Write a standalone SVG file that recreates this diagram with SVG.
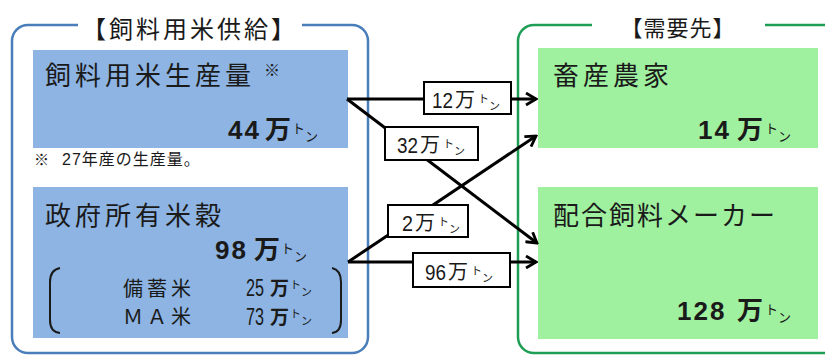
<svg xmlns="http://www.w3.org/2000/svg" width="825" height="356" viewBox="0 0 825 356">
<style>
.t{font-family:"Liberation Sans","Noto Sans CJK JP",sans-serif;fill:#1a1a1a}
.j{font-family:"Noto Sans CJK JP",sans-serif;fill:#1a1a1a}
.ttl{font-size:24px;letter-spacing:3px}
.big{font-size:26px;letter-spacing:4px}
.num{font-size:26px;font-weight:bold;letter-spacing:2px}
.man{font-size:26px;font-weight:bold}
.kb{font-size:13px}
.ks{font-size:11px}
.sub{font-size:20px;letter-spacing:4px}
.lbl{font-size:22px}
.lm{font-size:20px}
.lb{fill:#ffffff;stroke:#000;stroke-width:2}
.cn{fill:none;stroke:#000;stroke-width:3}
</style>
<defs>
<marker id="ah" viewBox="0 0 14 14" refX="12" refY="7" markerWidth="14" markerHeight="14" markerUnits="userSpaceOnUse" orient="auto">
<path d="M2,1 L12,7 L2,13" fill="none" stroke="#000" stroke-width="2.8"/>
</marker>
</defs>
<rect width="825" height="356" fill="#ffffff"/>

<g id="supply-group">
<path d="M78,25 H28 A16,16 0 0 0 12,41 V337 A16,16 0 0 0 28,353 H352 A16,16 0 0 0 368,337 V41 A16,16 0 0 0 352,25 H302" fill="none" stroke="#4a7ebb" stroke-width="2.5"/>
<text class="j ttl" x="190" y="38" text-anchor="middle">【飼料用米供給】</text>
</g>

<g id="demand-group">
<path d="M592,25 H534 A16,16 0 0 0 518,41 V337 A16,16 0 0 0 534,353 H830 M765,25 H830" fill="none" stroke="#1e9e55" stroke-width="2.5"/>
<text class="j" style="font-size:22px;letter-spacing:1px" x="678" y="36" text-anchor="middle">【需要先】</text>
</g>

<g id="production">
<rect x="33" y="50" width="315" height="98" fill="#8db4e2"/>
<text class="t big" x="45" y="85">飼料用米生産量</text>
<text class="t" style="font-size:16px" x="264" y="76">※</text>
<text class="t num" x="228" y="139">44</text>
<text class="t man" x="265" y="139">万</text>
<text class="j kb" x="292" y="133">ト<tspan dy="8">ン</tspan></text>
<text class="j" style="font-size:15px" x="34" y="165">※</text>
<text class="t" style="font-size:16px;letter-spacing:1px" x="62" y="165">27年産の生産量。</text>
</g>

<g id="government">
<rect x="33" y="187" width="315" height="151" fill="#8db4e2"/>
<text class="t big" x="45" y="225">政府所有米穀</text>
<text class="t num" x="215" y="259">98</text>
<text class="t man" x="254" y="259">万</text>
<text class="j kb" x="281" y="253">ト<tspan dy="8">ン</tspan></text>
<path d="M60,268 Q50,270 50,282 V320 Q50,332 60,333" fill="none" stroke="#1a1a1a" stroke-width="2"/>
<path d="M332,268 Q341,270 341,282 V320 Q341,332 332,333" fill="none" stroke="#1a1a1a" stroke-width="2"/>
<text class="j sub" x="123" y="296">備蓄米</text>
<text class="t" style="font-size:23px" x="246" y="296" textLength="18" lengthAdjust="spacingAndGlyphs">25</text>
<text class="j" style="font-size:19px;font-weight:bold" x="270" y="295">万</text>
<text class="j ks" x="290" y="289">ト<tspan dy="7">ン</tspan></text>
<text class="j sub" x="123" y="324">ＭＡ米</text>
<text class="t" style="font-size:23px" x="246" y="325" textLength="18" lengthAdjust="spacingAndGlyphs">73</text>
<text class="j" style="font-size:19px;font-weight:bold" x="270" y="324">万</text>
<text class="j ks" x="290" y="318">ト<tspan dy="7">ン</tspan></text>
</g>

<g id="livestock">
<rect x="538" y="48" width="280" height="100" fill="#9ff09f"/>
<text class="t big" x="553" y="85">畜産農家</text>
<text class="t num" x="698" y="139">14</text>
<text class="t man" x="737" y="139">万</text>
<text class="j kb" x="765" y="133">ト<tspan dy="8">ン</tspan></text>
</g>

<g id="feedmaker">
<rect x="538" y="187" width="280" height="152" fill="#9ff09f"/>
<text class="t" style="font-size:26px;letter-spacing:2px" x="553" y="225">配合飼料メーカー</text>
<text class="t num" x="677" y="320">128</text>
<text class="t man" x="737" y="320">万</text>
<text class="j kb" x="765" y="314">ト<tspan dy="8">ン</tspan></text>
</g>

<g id="connectors">
<path class="cn" d="M347,99 H536" marker-end="url(#ah)"/>
<path class="cn" d="M347,99 L537,243" marker-end="url(#ah)"/>
<path class="cn" d="M348,262 H536" marker-end="url(#ah)"/>
<path class="cn" d="M348,262 L536,136" marker-end="url(#ah)"/>
<g id="label-12">
<rect class="lb" x="424" y="82" width="87" height="32"/>
<text class="t lbl" x="432" y="108" textLength="21" lengthAdjust="spacingAndGlyphs">12</text>
<text class="j lm" x="455" y="107">万</text>
<text class="j ks" x="478" y="103">ト<tspan dy="7">ン</tspan></text>
</g>
<g id="label-32">
<rect class="lb" x="385" y="127" width="93" height="33"/>
<text class="t lbl" x="397" y="153" textLength="21" lengthAdjust="spacingAndGlyphs">32</text>
<text class="j lm" x="420" y="152">万</text>
<text class="j ks" x="443" y="148">ト<tspan dy="7">ン</tspan></text>
</g>
<g id="label-2">
<rect class="lb" x="388" y="205" width="80" height="32"/>
<text class="t lbl" x="402" y="231" textLength="11" lengthAdjust="spacingAndGlyphs">2</text>
<text class="j lm" x="415" y="230">万</text>
<text class="j ks" x="438" y="226">ト<tspan dy="7">ン</tspan></text>
</g>
<g id="label-96">
<rect class="lb" x="413" y="253" width="97" height="34"/>
<text class="t lbl" x="425" y="280" textLength="21" lengthAdjust="spacingAndGlyphs">96</text>
<text class="j lm" x="448" y="279">万</text>
<text class="j ks" x="471" y="275">ト<tspan dy="7">ン</tspan></text>
</g>
</g>
</svg>
